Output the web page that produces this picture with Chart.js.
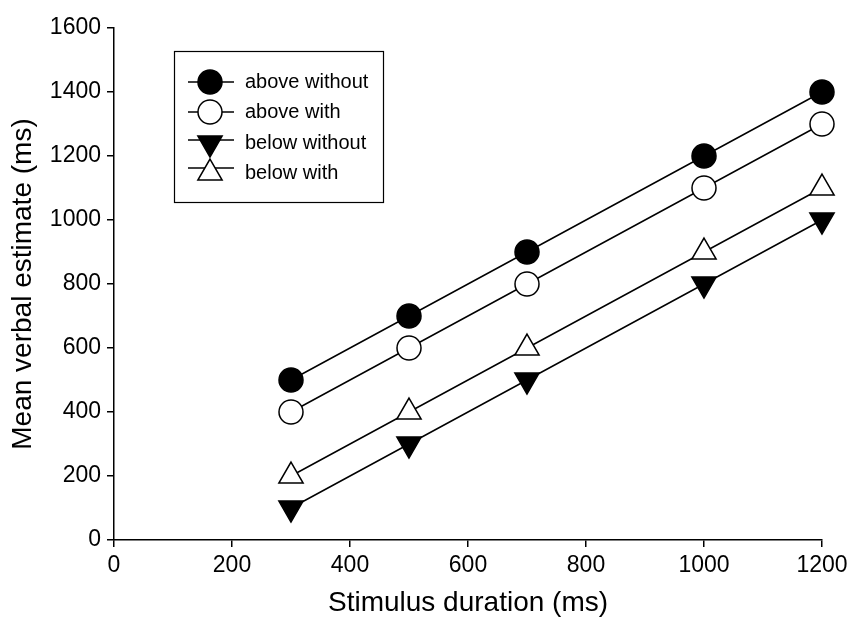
<!DOCTYPE html>
<html>
<head>
<meta charset="utf-8">
<script src="https://cdn.jsdelivr.net/npm/chart.js@4/dist/chart.umd.min.js"></script>
<style>
  html, body { margin: 0; padding: 0; background: #fff; }
  #wrap { width: 853px; height: 617px; position: relative; }
</style>
</head>
<body>
<div id="wrap"><canvas id="verbalChart"></canvas></div>
<script>
// stimulus durations (ms)
const durations = [300, 500, 700, 1000, 1200];

// mean verbal estimates (ms)
const aboveWithout = [500, 700, 900, 1200, 1400];
const aboveWith    = [400, 600, 800, 1100, 1300];
const belowWithout = [100, 300, 500, 800, 1000];
const belowWith    = [200, 400, 600, 900, 1100];

const seriesLabels = ['above without', 'above with', 'below without', 'below with'];

const FONT = 'Liberation Sans, Arial, Helvetica, sans-serif';

function toPoints(values) {
    return durations.map((d, i) => ({ x: d, y: values[i] }));
}

function makeSet(label, values, style, filled, rotation, radius) {
    return {
        label: label,
        data: toPoints(values),
        borderColor: '#000',
        borderWidth: 1.5,
        backgroundColor: filled ? '#000' : '#fff',
        pointStyle: style,
        pointRotation: rotation,
        pointRadius: radius,
        pointHoverRadius: radius,
        pointBorderWidth: 1.5,
        pointBorderColor: '#000',
        pointBackgroundColor: filled ? '#000' : '#fff',
        tension: 0,
        fill: false,
        clip: false
    };
}

// legend box inside the plot, short line through each marker
const boxLegend = {
    id: 'boxLegend',
    afterDraw(chart) {
        const ctx = chart.ctx;
        const lineRows = [82, 112, 140, 168];
        const markRows = [82, 112, 143, 173];
        ctx.save();
        ctx.strokeStyle = '#000';
        ctx.lineWidth = 1.2;
        ctx.strokeRect(174.5, 51.5, 209, 151);
        chart.data.datasets.forEach((ds, i) => {
            ctx.beginPath();
            ctx.strokeStyle = '#000';
            ctx.lineWidth = 1.5;
            ctx.moveTo(188, lineRows[i]);
            ctx.lineTo(234, lineRows[i]);
            ctx.stroke();
            ctx.fillStyle = ds.pointBackgroundColor;
            Chart.helpers.drawPoint(ctx, {
                pointStyle: ds.pointStyle,
                rotation: ds.pointRotation,
                radius: ds.pointRadius,
                borderWidth: 1.5
            }, 210, markRows[i]);
            ctx.fillStyle = '#000';
            ctx.font = '20px ' + FONT;
            ctx.textBaseline = 'middle';
            ctx.textAlign = 'left';
            ctx.fillText(ds.label, 245, markRows[i]);
        });
        ctx.restore();
    }
};

new Chart(document.getElementById('verbalChart'), {
    type: 'line',
    data: {
        datasets: [
            makeSet(seriesLabels[0], aboveWithout, 'circle', true, 0, 12),
            makeSet(seriesLabels[1], aboveWith, 'circle', false, 0, 12),
            makeSet(seriesLabels[2], belowWithout, 'triangle', true, 180, 14),
            makeSet(seriesLabels[3], belowWith, 'triangle', false, 0, 14)
        ]
    },
    options: {
        responsive: true,
        maintainAspectRatio: false,
        animation: false,
        layout: { padding: { left: 0, top: 28, right: 31, bottom: 0 } },
        plugins: {
            legend: { display: false },
            tooltip: { enabled: false }
        },
        scales: {
            x: {
                type: 'linear',
                min: 0,
                max: 1200,
                ticks: {
                    stepSize: 200, color: '#000', padding: 5,
                    font: { family: FONT, size: 23 },
                    callback: v => String(v)
                },
                grid: { drawOnChartArea: false, tickLength: 7, color: '#000', lineWidth: 1.5 },
                border: { color: '#000', width: 1.5 },
                title: {
                    display: true,
                    text: 'Stimulus duration (ms)',
                    color: '#000',
                    font: { family: FONT, size: 28, lineHeight: 1 },
                    padding: { top: 0, bottom: 0 }
                },
                afterFit(scale) { scale.height = 77; }
            },
            y: {
                min: 0,
                max: 1600,
                ticks: {
                    stepSize: 200, color: '#000', padding: 6,
                    font: { family: FONT, size: 23 },
                    callback: v => String(v)
                },
                grid: { drawOnChartArea: false, tickLength: 7, color: '#000', lineWidth: 1.5 },
                border: { color: '#000', width: 1.5 },
                title: {
                    display: true,
                    text: 'Mean verbal estimate (ms)',
                    color: '#000',
                    font: { family: FONT, size: 28, lineHeight: 1 },
                    padding: { top: 9, bottom: 0 }
                },
                afterFit(scale) { scale.width = 114; }
            }
        }
    },
    plugins: [boxLegend]
});
</script>
</body>
</html>
